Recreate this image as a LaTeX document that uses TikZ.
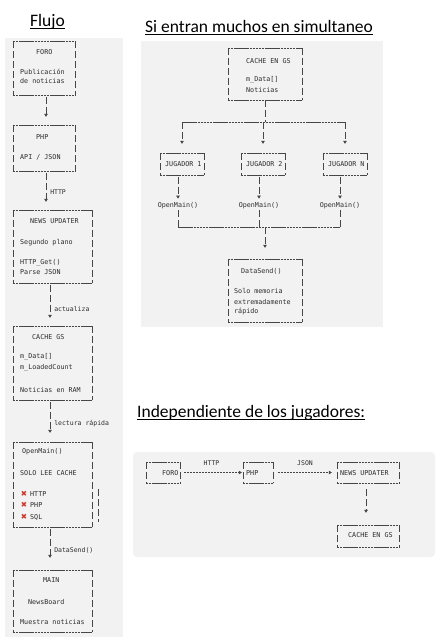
\documentclass[tikz,border=0pt]{standalone}
\usepackage{fontspec}
\setmonofont{DejaVu Sans Mono}
\newfontfamily\titlefont{Carlito}
\newfontfamily\symbfont{DejaVu Sans}
\usetikzlibrary{arrows.meta,fit}

\definecolor{panel}{RGB}{242,242,242}
\definecolor{ink}{RGB}{45,45,45}
\definecolor{rule}{RGB}{70,70,70}
\definecolor{cross}{RGB}{205,55,45}

\tikzset{
  txt/.style={font=\ttfamily\fontsize{6.7}{7}\selectfont, text=ink, inner sep=0pt, anchor=west},
  ttl/.style={font=\titlefont\fontsize{17.5}{20}\selectfont, inner sep=0pt, anchor=base west},
  bx/.style={inner sep=0pt},
  hline/.style={draw=rule, line width=0.5pt, dash pattern=on 2.5pt off 0.6pt},
  vline/.style={draw=rule, line width=0.5pt, dash pattern=on 7pt off 3pt},
  vlink/.style={vline, -{Triangle[width=3.6pt,length=3pt]}, shorten <=1.5pt, shorten >=8pt},
  hlink/.style={draw=rule, line width=0.5pt, dash pattern=on 2pt off 1pt, -{Triangle[width=3.6pt,length=3pt]}},
  xmark/.style={font=\symbfont\fontsize{7.5}{8}\selectfont, text=cross, inner sep=0pt},
  lbl/.style={txt, font=\ttfamily\fontsize{6.5}{7}\selectfont}
}

\begin{document}
\begin{tikzpicture}[x=1pt,y=-1pt]
\useasboundingbox (0,0) rectangle (441,640);

\fill[panel] (5,38) rectangle (123,637);
\fill[panel] (141,41) rectangle (383,327);
\fill[panel, rounded corners=4pt] (133,452) rectangle (435,557);

% titles
\node[ttl] (t1) at (30,26) {Flujo};
\node[ttl] (t2) at (145,32) {Si entran muchos en simultaneo};
\node[ttl] (t3) at (137,417) {Independiente de los jugadores:};
\foreach \t in {t1,t2,t3}
  \draw[black, line width=0.8pt] ([yshift=-2.6pt]\t.base west) -- ([yshift=-2.6pt]\t.base east);

% flujo
\node[bx, fit={(13,41) (75,95)}] (foro) {};
\node[txt] (foro-a) at (36,52) {FORO};
\node[txt] (foro-b) at (20,72) {Publicación};
\node[txt] (foro-c) at (20,81) {de noticias};

\node[bx, fit={(13,125) (75,171)}] (php) {};
\node[txt] (php-a) at (36,137) {PHP};
\node[txt] (php-b) at (20,157) {API / JSON};

\node[bx, fit={(13,210) (92,283)}] (upd) {};
\node[txt] (upd-a) at (30,221) {NEWS UPDATER};
\node[txt] (upd-b) at (20,243) {Segundo plano};
\node[txt] (upd-c) at (20,263) {HTTP\_Get()};
\node[txt] (upd-d) at (20,272) {Parse JSON};

\node[bx, fit={(13,326) (92,400)}] (gs) {};
\node[txt] (gs-a) at (32,337) {CACHE GS};
\node[txt] (gs-b) at (20,357) {m\_Data[]};
\node[txt] (gs-c) at (20,368) {m\_LoadedCount};
\node[txt] (gs-d) at (20,390) {Noticias en RAM};

\node[bx, fit={(13,442) (92,527)}] (open) {};
\node[txt] (open-a) at (22,452) {OpenMain()};
\node[txt] (open-b) at (20,473) {SOLO LEE CACHE};
\foreach \w/\y in {HTTP/494,PHP/505,SQL/517}{
  \node[xmark] (x-\w) at (24,\y) {✖};
  \node[txt] (open-\w) at (30,\y) {\w};
}
\draw[vline] (98,489) -- (98,522);

\node[bx, fit={(13,570) (92,632)}] (main) {};
\node[txt] (main-a) at (43,580) {MAIN};
\node[txt] (main-b) at (28,602) {NewsBoard};
\node[txt] (main-c) at (20,622) {Muestra noticias};

\draw[vlink] ([xshift=2pt]foro.south) -- ([xshift=2pt]php.north);
\draw[vlink] ([xshift=2pt]php.south) -- node[lbl, right=4pt, pos=.55] (l-http) {HTTP} ([xshift=2pt]php.south |- upd.north);
\draw[vlink] ([xshift=-2.5pt]upd.south) -- node[lbl, right=4pt, pos=.6] (l-act) {actualiza} ([xshift=-2.5pt]gs.north);
\draw[vlink, shorten >=9pt] ([xshift=-2.5pt]gs.south) -- node[lbl, right=4pt, pos=.55] (l-lec) {lectura rápida} ([xshift=-2.5pt]open.north);
\draw[vlink, shorten >=12pt] ([xshift=-2.5pt]open.south) -- node[lbl, right=4pt, pos=.55] (l-ds) {DataSend()} ([xshift=-2.5pt]main.north);

% simultaneo
\node[bx, fit={(228,48) (302,100)}] (cache) {};
\node[txt] (cache-a) at (246,61) {CACHE EN GS};
\node[txt] (cache-b) at (246,80) {m\_Data[]};
\node[txt] (cache-c) at (246,90) {Noticias};

\node[bx, fit={(160,153) (204,175)}] (j1) {};
\node[bx, fit={(241,153) (285,175)}] (j2) {};
\node[bx, fit={(323,153) (367,175)}] (jn) {};
\node[txt] (j1-a) at (165,164) {JUGADOR 1};
\node[txt] (j2-a) at (246,164) {JUGADOR 2};
\node[txt] (jn-a) at (328,164) {JUGADOR N};

\node[txt, anchor=center, inner sep=1pt] (om1) at (178,206) {OpenMain()};
\node[txt, anchor=center, inner sep=1pt] (om2) at (259,206) {OpenMain()};
\node[txt, anchor=center, inner sep=1pt] (omn) at (340,206) {OpenMain()};

\node[bx, fit={(228,259) (302,322)}] (send) {};
\node[txt] (send-a) at (241,271) {DataSend()};
\node[txt] (send-b) at (234,291) {Solo memoria};
\node[txt] (send-c) at (234,302) {extremadamente};
\node[txt] (send-d) at (234,312) {rápido};

\coordinate (bus) at (265,122);
\coordinate (bus2) at (265,227);
\draw[vline] (cache.south) -- (cache.south |- bus);
\draw[hline] (j1.north |- bus) -- (jn.north |- bus);
\foreach \j in {j1,j2,jn}
  \draw[vlink, shorten <=0pt, shorten >=9pt] (\j.north |- bus) -- (\j.north);
\foreach \j/\o in {j1/om1,j2/om2,jn/omn}
  \draw[vlink, shorten >=3pt] (\o.north |- \j.south) -- (\o.north);
\draw[vline] (om1.south) -- (om1.south |- bus2);
\draw[vline] (om2.south) -- (om2.south |- bus2);
\draw[vline] (omn.south) -- (omn.south |- bus2);
\draw[hline] (om1.south |- bus2) -- (omn.south |- bus2);
\draw[vlink, shorten <=0pt, shorten >=11pt] (send.north |- bus2) -- (send.north);

% independiente
\node[bx, fit={(146,462) (180,483)}] (foro2) {};
\node[txt] (foro2-a) at (162,473) {FORO};
\node[bx, fit={(243,462) (273,483)}] (php2) {};
\node[txt] (php2-a) at (246,473) {PHP};
\node[bx, fit={(337,462) (399,483)}] (upd2) {};
\node[txt] (upd2-a) at (340,473) {NEWS UPDATER};
\node[bx, fit={(337,525) (399,547)}] (gs2) {};
\node[txt] (gs2-a) at (348,535) {CACHE EN GS};

\draw[hlink, shorten <=4pt, shorten >=1pt] (foro2) -- node[lbl, anchor=center, above=7pt] (l-http2) {HTTP} (php2);
\draw[hlink, shorten <=5pt, shorten >=5pt] (php2) -- node[lbl, anchor=center, above=7pt] (l-json) {JSON} (upd2);
\draw[vlink, shorten <=6pt, shorten >=12pt] ([xshift=-2pt]upd2.south) -- ([xshift=-2pt]gs2.north);

% ascii boxes
\foreach \b in {foro,php,upd,gs,open,main,cache,j1,j2,jn,send,foro2,php2,upd2,gs2}{
  \draw[hline] (\b.north west) -- (\b.north east) (\b.south west) -- (\b.south east);
  \draw[vline] (\b.north west) -- (\b.south west) (\b.north east) -- (\b.south east);
}
\end{tikzpicture}
\end{document}
